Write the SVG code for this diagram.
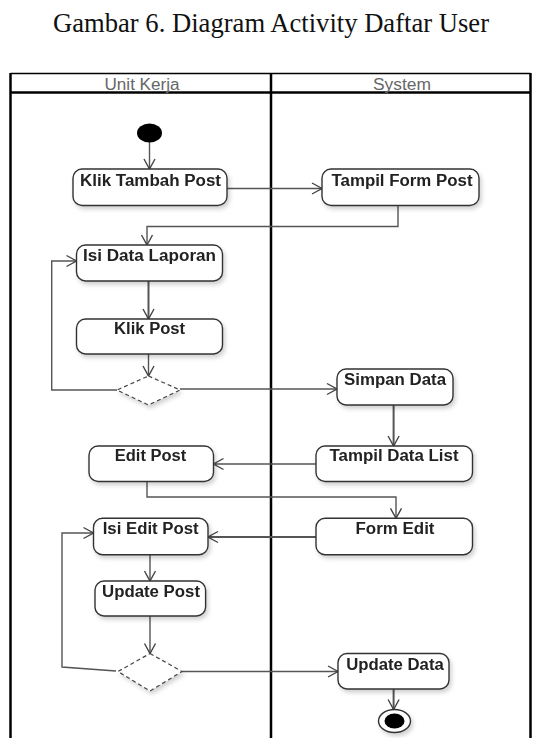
<svg xmlns="http://www.w3.org/2000/svg" width="533" height="738" viewBox="0 0 533 738">
<style>
.title{font-family:"Liberation Serif","Times New Roman",serif;font-size:27px;fill:#111}
.lane{font-family:"Liberation Sans",Arial,sans-serif;font-size:16px;fill:#666}
.frame{stroke:#000;fill:none}
.box{fill:#fff;stroke:#333;stroke-width:1.4}
.lbl{font-family:"Liberation Sans",Arial,sans-serif;font-size:16px;font-weight:bold;fill:#222;text-anchor:middle}
.edge{fill:none;stroke:#555;stroke-width:1.4}
.thick{stroke-width:2}
.dec{fill:#fff;stroke:#444;stroke-width:1.2;stroke-dasharray:4 3}
</style>
<defs>
<marker id="open" markerUnits="userSpaceOnUse" markerWidth="14" markerHeight="14" refX="11" refY="7" orient="auto">
<path d="M1,1.5 L11,7 L1,12.5" fill="none" stroke="#444" stroke-width="1.4"/>
</marker>
<filter id="sh" x="-10%" y="-10%" width="130%" height="140%">
<feDropShadow dx="2" dy="3" stdDeviation="2" flood-color="#000" flood-opacity="0.18"/>
</filter>
</defs>
<rect width="533" height="738" fill="#fff"/>
<text class="title" x="271" y="31.5" text-anchor="middle" textLength="436" lengthAdjust="spacingAndGlyphs">Gambar 6. Diagram Activity Daftar User</text>

<g id="swimlanes">
<line class="frame" x1="10.5" y1="73.5" x2="530.5" y2="73.5" stroke-width="1.5"/>
<line class="frame" x1="10.5" y1="92.5" x2="530.5" y2="92.5" stroke-width="2.5"/>
<line class="frame" x1="10.5" y1="73" x2="10.5" y2="738" stroke-width="2.5"/>
<line class="frame" x1="271" y1="73" x2="271" y2="738" stroke-width="2.5"/>
<line class="frame" x1="530.5" y1="73" x2="530.5" y2="738" stroke-width="2.5"/>
<text class="lane" x="142" y="90" text-anchor="middle" textLength="75" lengthAdjust="spacingAndGlyphs">Unit Kerja</text>
<text class="lane" x="402" y="90" text-anchor="middle" textLength="58" lengthAdjust="spacingAndGlyphs">System</text>
</g>

<g id="connectors">
<line class="edge" x1="149.5" y1="141.5" x2="149.5" y2="169" marker-end="url(#open)"/>
<line class="edge" x1="227" y1="188.5" x2="322" y2="188.5" marker-end="url(#open)"/>
<path class="edge" d="M398,205.5 V226.5 H147 V245" marker-end="url(#open)"/>
<line class="edge thick" x1="148.5" y1="281" x2="148.5" y2="319" marker-end="url(#open)"/>
<line class="edge" x1="148.5" y1="354" x2="148.5" y2="376" marker-end="url(#open)"/>
<path class="edge" d="M117,390 H51.7 V261 H76.5" marker-end="url(#open)"/>
<line class="edge" x1="180" y1="389" x2="337" y2="389" marker-end="url(#open)"/>
<line class="edge thick" x1="393.6" y1="405" x2="393.6" y2="446" marker-end="url(#open)"/>
<line class="edge" x1="316" y1="464" x2="213.5" y2="464" marker-end="url(#open)"/>
<path class="edge" d="M147,481.5 V497 H396 V518.3" marker-end="url(#open)"/>
<line class="edge thick" x1="316" y1="537" x2="208" y2="537" marker-end="url(#open)"/>
<line class="edge" x1="150" y1="554.7" x2="150" y2="581" marker-end="url(#open)"/>
<line class="edge" x1="150" y1="616" x2="150" y2="653.5" marker-end="url(#open)"/>
<path class="edge" d="M116,671 L62,667 V533 H93.5" marker-end="url(#open)"/>
<line class="edge" x1="182" y1="671.5" x2="338" y2="671.5" marker-end="url(#open)"/>
<line class="edge thick" x1="393.6" y1="689" x2="393.6" y2="709.5" marker-end="url(#open)"/>
</g>

<g id="start"><ellipse cx="149.5" cy="133" rx="12.5" ry="9.5" fill="#000"/></g>

<g id="klik-tambah-post" filter="url(#sh)"><rect class="box" x="73" y="169" width="154" height="36.5" rx="9"/><text class="lbl" x="150.5" y="186.4" textLength="141" lengthAdjust="spacingAndGlyphs">Klik Tambah Post</text></g>
<g id="tampil-form-post" filter="url(#sh)"><rect class="box" x="322" y="169" width="157" height="36.5" rx="9"/><text class="lbl" x="402" y="186.4" textLength="141" lengthAdjust="spacingAndGlyphs">Tampil Form Post</text></g>
<g id="isi-data-laporan" filter="url(#sh)"><rect class="box" x="76.5" y="245" width="146" height="36" rx="9"/><text class="lbl" x="149.5" y="261.3" textLength="133" lengthAdjust="spacingAndGlyphs">Isi Data Laporan</text></g>
<g id="klik-post" filter="url(#sh)"><rect class="box" x="76.5" y="319" width="146" height="35" rx="9"/><text class="lbl" x="149.6" y="333.7" textLength="71" lengthAdjust="spacingAndGlyphs">Klik Post</text></g>
<g id="decision-1" filter="url(#sh)"><polygon class="dec" points="148.5,376 180,390 148.5,405 117,390"/></g>
<g id="simpan-data" filter="url(#sh)"><rect class="box" x="337" y="369" width="116" height="36" rx="9"/><text class="lbl" x="395" y="384.5" textLength="102" lengthAdjust="spacingAndGlyphs">Simpan Data</text></g>
<g id="edit-post" filter="url(#sh)"><rect class="box" x="89" y="446" width="124.5" height="35.5" rx="9"/><text class="lbl" x="150.5" y="461.2" textLength="71.5" lengthAdjust="spacingAndGlyphs">Edit Post</text></g>
<g id="tampil-data-list" filter="url(#sh)"><rect class="box" x="316" y="446" width="156.5" height="35.5" rx="9"/><text class="lbl" x="394" y="461.2" textLength="129" lengthAdjust="spacingAndGlyphs">Tampil Data List</text></g>
<g id="isi-edit-post" filter="url(#sh)"><rect class="box" x="93.5" y="518.3" width="114.5" height="36.4" rx="9"/><text class="lbl" x="150.7" y="534.3" textLength="96" lengthAdjust="spacingAndGlyphs">Isi Edit Post</text></g>
<g id="form-edit" filter="url(#sh)"><rect class="box" x="316" y="518.3" width="156.5" height="36.4" rx="9"/><text class="lbl" x="395" y="534.3" textLength="79" lengthAdjust="spacingAndGlyphs">Form Edit</text></g>
<g id="update-post" filter="url(#sh)"><rect class="box" x="95" y="581" width="110.6" height="35" rx="9"/><text class="lbl" x="151" y="596.7" textLength="98" lengthAdjust="spacingAndGlyphs">Update Post</text></g>
<g id="decision-2" filter="url(#sh)"><polygon class="dec" points="150,653.5 182,671.5 150,691 118,671.5"/></g>
<g id="update-data" filter="url(#sh)"><rect class="box" x="338" y="653.5" width="111" height="35.5" rx="9"/><text class="lbl" x="395" y="669.5" textLength="97.6" lengthAdjust="spacingAndGlyphs">Update Data</text></g>
<g id="end" filter="url(#sh)"><ellipse cx="394.5" cy="721" rx="16" ry="11.5" fill="#fff" stroke="#333" stroke-width="1.4"/><ellipse cx="394.5" cy="721" rx="10" ry="7.5" fill="#000"/></g>
</svg>
